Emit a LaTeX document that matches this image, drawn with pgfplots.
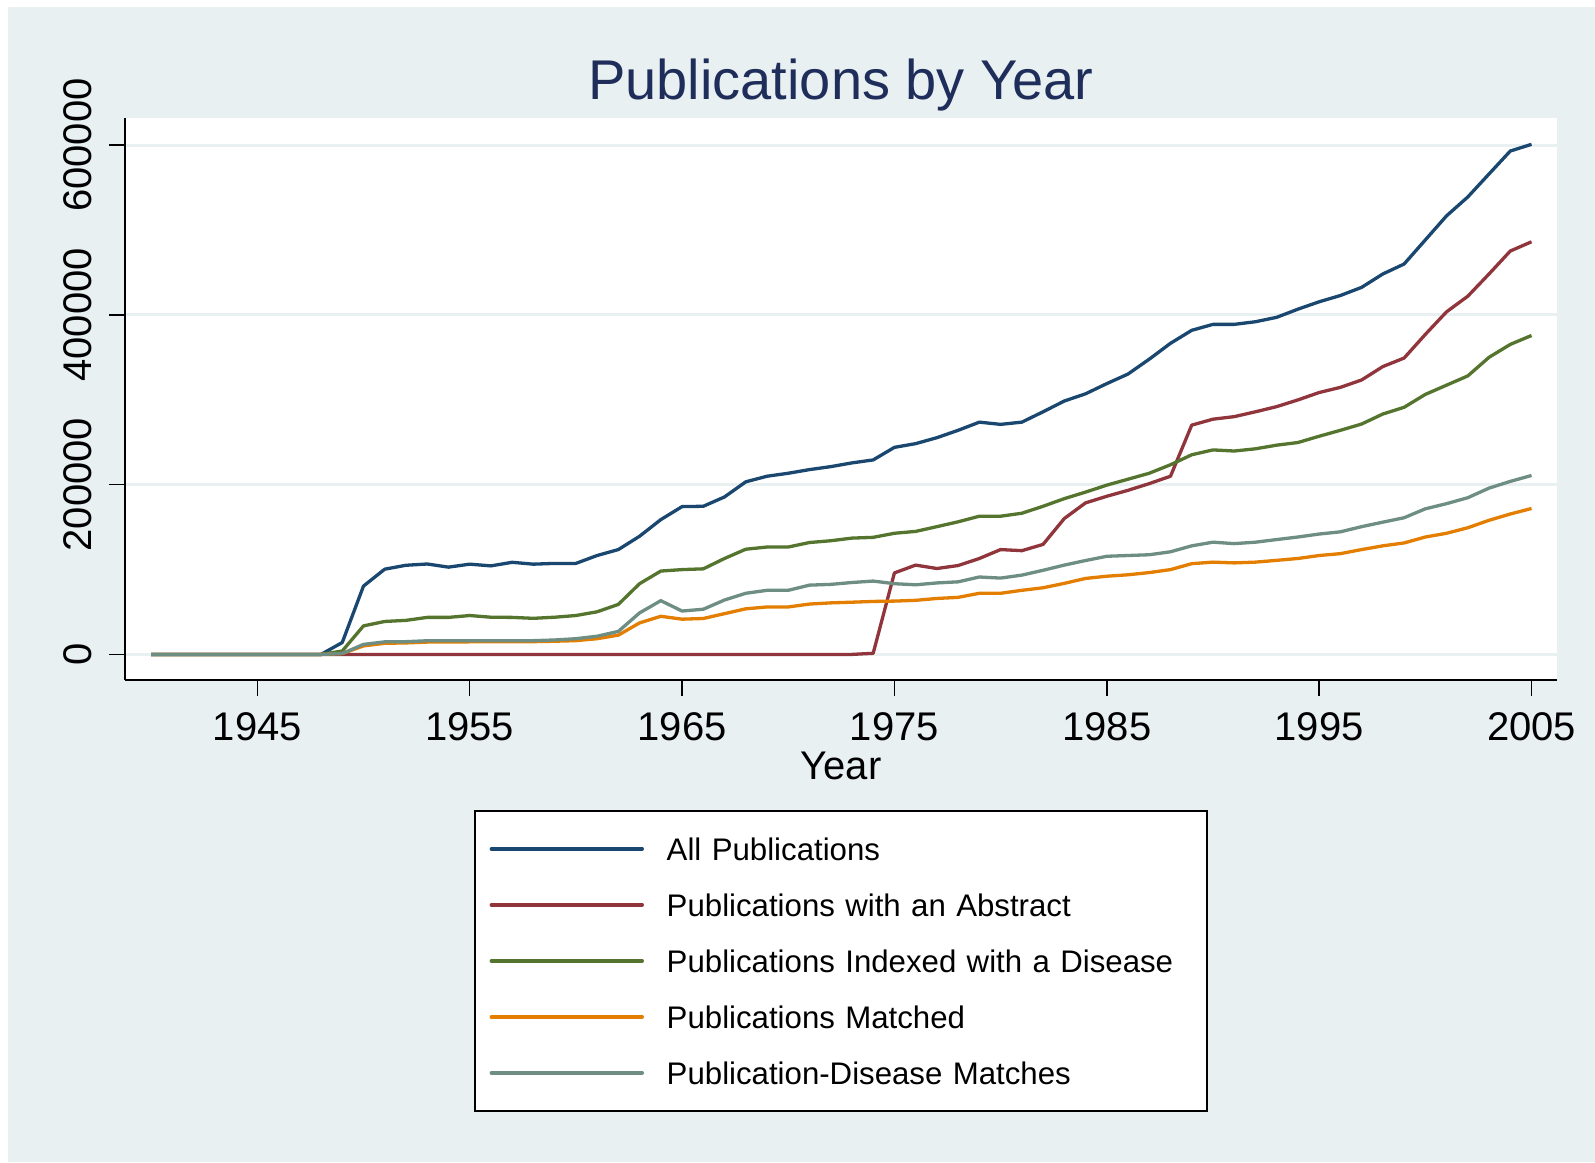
\documentclass[border=0pt]{standalone}
\usepackage{fontspec}
\setmainfont{Liberation Sans}
\usepackage{pgfplots}
\pgfplotsset{compat=1.18}
\usepackage{pgfplotstable}
\definecolor{bgcol}{RGB}{232,240,242}
\definecolor{titlecol}{RGB}{30,45,90}
\definecolor{cnavy}{RGB}{26,71,111}
\definecolor{cmaroon}{RGB}{144,53,59}
\definecolor{cgreen}{RGB}{85,117,47}
\definecolor{corange}{RGB}{227,126,0}
\definecolor{cteal}{RGB}{110,142,132}
\pgfplotstableread{
year all abs idx mat pdm
1940 0 0 0 0 0
1941 0 0 0 0 0
1942 0 0 0 0 0
1943 0 0 0 0 0
1944 0 0 0 0 0
1945 0 0 0 0 0
1946 0 0 0 0 0
1947 0 0 0 0 0
1948 0 0 0 0 0
1949 14000 0 4000 1000 1000
1950 80500 0 33600 10000 11800
1951 100400 0 38800 13100 14800
1952 105000 0 40100 13500 15000
1953 106500 0 43600 14500 16100
1954 102800 0 43600 14600 16100
1955 106300 0 45800 14800 16100
1956 104300 0 43800 14800 16100
1957 108500 0 43600 15000 16200
1958 106300 0 42500 15000 16200
1959 107200 0 43800 15500 17000
1960 107200 0 45800 16200 18500
1961 116500 0 50200 18500 21400
1962 123500 0 58900 22700 27100
1963 139200 0 83300 37100 48900
1964 158800 0 98200 44900 63300
1965 174100 0 99900 41500 51100
1966 174500 0 100800 42300 53200
1967 185500 0 113000 48000 64100
1968 203300 0 123900 53700 72000
1969 209900 0 126500 55900 75500
1970 213400 0 126500 55900 75500
1971 217700 0 131800 59300 81600
1972 221200 0 133900 60700 82500
1973 225600 0 137000 61500 84700
1974 229100 1300 137900 62400 86400
1975 243900 96000 142700 62800 83300
1976 248300 105200 144900 63700 82000
1977 255300 101200 150500 65900 84200
1978 264000 104700 156200 67200 85500
1979 273600 113000 162800 72000 91200
1980 271000 123500 162800 72000 89900
1981 273600 122200 166300 75500 93400
1982 285800 129600 174500 78500 99100
1983 298500 160100 183500 83700 105200
1984 307000 178500 191200 89500 110600
1985 319000 186300 199400 92100 115600
1986 330300 193300 206400 93800 116500
1987 347800 201200 213400 96400 117400
1988 366500 209900 223400 99900 120900
1989 381800 270100 235200 106900 127900
1990 388800 277100 240900 108700 132200
1991 388800 280100 239600 107800 130500
1992 391900 285800 242200 108700 132200
1993 397100 291900 246500 110800 135300
1994 406700 299800 249600 113000 138300
1995 415400 308500 257000 116500 141800
1996 422800 314600 264000 118700 144400
1997 432400 323300 271400 123500 150500
1998 448200 339100 283200 127900 155800
1999 459900 349100 291100 131300 161000
2000 488300 377000 306300 138300 171500
2001 516700 403600 317200 142700 177600
2002 538900 422000 328100 149200 184600
2003 566000 448200 350000 158000 195900
2004 593000 475200 365200 165400 203800
2005 600900 486100 375700 171900 210800
}\data
\begin{document}
\begin{tikzpicture}
\fill[white] (0,0) rectangle (797.5pt,-581pt);
\fill[bgcol] (4pt,-3.5pt) rectangle (797.5pt,-581pt);
\begin{axis}[
  at={(62.5pt,-339.8pt)}, anchor=south west,
  scale only axis, width=716pt, height=280.9pt,
  xmin=1938.77, xmax=2006.2, ymin=-29700, ymax=632150,
  axis lines*=left,
  axis line style={line width=1pt, black},
  axis background/.style={fill=white},
  xtick={1945,1955,...,2005}, ytick={0,200000,400000,600000},
  tick align=outside, major tick length=8pt,
  tick style={line width=0.75pt, black},
  ymajorgrids, grid style={bgcol, line width=1.5pt},
  scaled y ticks=false,
  /pgf/number format/.cd, 1000 sep={}, fixed, assume math mode=true, /pgfplots/.cd,
  ticklabel style={font=\fontsize{20}{24}\selectfont, inner sep=0pt},
  xticklabel style={anchor=base},
  yticklabel style={rotate=90, anchor=base},
  xticklabel shift=22.5pt, yticklabel shift=9pt,
  title={Publications by Year},
  title style={font=\fontsize{28}{32}\selectfont, text=titlecol, at={(axis description cs:0.5,1)}, anchor=base, yshift=3pt, inner sep=0pt},
  xlabel={Year},
  xlabel style={font=\fontsize{20}{24}\selectfont, at={(axis description cs:0.5,0)}, anchor=base, yshift=-49.7pt, inner sep=0pt},
  every axis plot/.append style={line width=1.65pt, line join=round},
  legend image code/.code={\draw[line width=1.65pt, line cap=round] (0pt,0pt) -- (75.5pt,0pt);},
  legend cell align=left,
  legend style={at={(axis description cs:0.2436,-0.2326)}, anchor=north west,
    draw=black, line width=1pt, fill=white,
    inner xsep=7.4pt, inner ysep=4.8pt, row sep=0pt, column sep=11.4pt,
    font=\fontsize{15.6}{18}\selectfont,
    nodes={inner sep=0pt, text height=19.6pt, text depth=8.4pt},
    /tikz/column 2/.style={nodes={text width=262.5pt, align=left}}},
]
\addplot[cnavy] table[x=year, y=all] {\data};
\addlegendentry{All Publications}
\addplot[cmaroon] table[x=year, y=abs] {\data};
\addlegendentry{Publications with an Abstract}
\addplot[cgreen] table[x=year, y=idx] {\data};
\addlegendentry{Publications Indexed with a Disease}
\addplot[corange] table[x=year, y=mat] {\data};
\addlegendentry{Publications Matched}
\addplot[cteal] table[x=year, y=pdm] {\data};
\addlegendentry{Publication-Disease Matches}
\end{axis}
\pgfresetboundingbox
\useasboundingbox (0,0) rectangle (797.5pt,-581pt);
\end{tikzpicture}
\end{document}
